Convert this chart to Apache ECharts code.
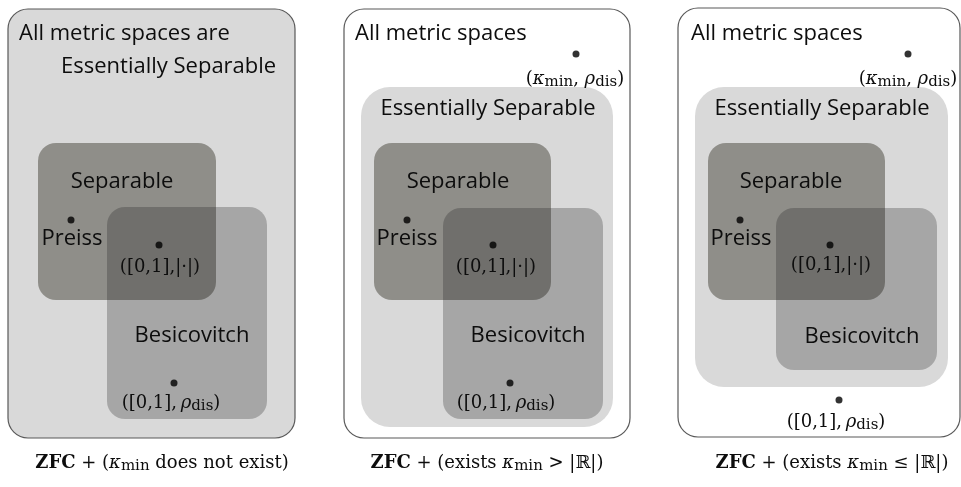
<!DOCTYPE html>
<html><head><meta charset="utf-8">
<script src="https://cdn.jsdelivr.net/npm/echarts@6/dist/echarts.min.js"></script>
<style>html,body{margin:0;padding:0;background:#fff}#c{width:961px;height:487px}</style>
</head><body><div id="c"></div>
<script>
// ---- data (diagram coordinates in a 961 x 487 value space) ----
const outerBoxes = [[8, 9, 295, 438], [344, 9, 630, 438], [678, 8, 960, 437]];
const essentialBoxes = [[361, 87, 613, 427], [695, 87, 948, 387]];
const separableBoxes = [[38, 143, 216, 300], [374, 143, 551, 300], [708, 143, 885, 300]];
const besicovitchBoxes = [[107, 207, 267, 419], [443, 208, 603, 419], [776, 208, 937, 370]];
const points = [[71, 220], [159, 245], [174, 383], [407, 220], [493, 245], [510, 383], [576, 54],
                [740, 220], [830, 245], [839, 400], [908, 54]];
const leftLabels = [[19, 32, 'All metric spaces are'], [61, 65, 'Essentially Separable'],
                    [355, 32, 'All metric spaces'], [691, 32, 'All metric spaces']];
const centerLabels = [[122, 180, 'Separable'], [72, 237, 'Preiss'], [192, 334, 'Besicovitch'],
                      [488, 107, 'Essentially Separable'], [458, 180, 'Separable'], [407, 237, 'Preiss'], [528, 334, 'Besicovitch'],
                      [822, 107, 'Essentially Separable'], [791, 180, 'Separable'], [741, 237, 'Preiss'], [862, 335, 'Besicovitch']];
const mathLabels = [[160, 267, '([0,1],|·|)'], [171, 403, '([0,1],\u2009{i|ρ}{s|dis})'],
                    [575, 79, '({i|κ}{s|min}, {i|ρ}{s|dis})'], [496, 267, '([0,1],|·|)'], [506, 403, '([0,1],\u2009{i|ρ}{s|dis})'],
                    [908, 79, '({i|κ}{s|min}, {i|ρ}{s|dis})'], [831, 265, '([0,1],|·|)'], [836, 422, '([0,1],\u2009{i|ρ}{s|dis})']];
const captions = [[162, 463, '{b|ZFC} + ({i|κ}{s|min} does not exist)'],
                  [487, 463, '{b|ZFC} + (exists {i|κ}{s|min} > |ℝ|)'],
                  [832, 463, '{b|ZFC} + (exists {i|κ}{s|min} ≤ |ℝ|)']];
const outerFills = ['#d9d9d9', '#ffffff', '#ffffff'];

// ---- rendering ----
const SERIF = 'DejaVu Serif, Liberation Serif, serif';
const SANS = 'Open Sans, Lato, sans-serif';
const INK = '#0d0d0d';
const mathRich = {
  i: { fontFamily: SERIF, fontSize: 18, fontStyle: 'italic', fill: INK, color: INK, lineHeight: 22 },
  s: { fontFamily: SERIF, fontSize: 15, fill: INK, color: INK, lineHeight: 11, verticalAlign: 'bottom' },
  b: { fontFamily: SERIF, fontSize: 18, fontWeight: 'bold', fill: INK, color: INK, lineHeight: 22 }
};

function boxSeries(list, r, styleFn, z) {
  return {
    type: 'custom', coordinateSystem: 'cartesian2d', silent: true, z: z,
    data: list, encode: { x: [0, 2], y: [1, 3] },
    renderItem(params, api) {
      const a = api.coord([api.value(0), api.value(1)]);
      const b = api.coord([api.value(2), api.value(3)]);
      return { type: 'rect', shape: { x: a[0], y: a[1], width: b[0] - a[0], height: b[1] - a[1], r: r },
               style: styleFn(params.dataIndex) };
    }
  };
}
function textSeries(list, align, base, dy, z) {
  return {
    type: 'custom', coordinateSystem: 'cartesian2d', silent: true, z: z,
    data: list.map(d => [d[0], d[1]]), encode: { x: 0, y: 1 },
    renderItem(params, api) {
      const p = api.coord([api.value(0), api.value(1)]);
      return { type: 'text', x: p[0], y: p[1] + dy,
               style: Object.assign({ text: list[params.dataIndex][2], align: align, verticalAlign: 'middle', rich: mathRich, fill: INK }, base) };
    }
  };
}

const chart = echarts.init(document.getElementById('c'), null, { renderer: 'canvas' });
chart.setOption({
  animation: false,
  backgroundColor: '#ffffff',
  grid: { left: 0, right: 0, top: 0, bottom: 0 },
  xAxis: { type: 'value', min: 0, max: 961, show: false },
  yAxis: { type: 'value', min: 0, max: 487, inverse: true, show: false },
  series: [
    boxSeries(outerBoxes, 20, i => ({ fill: outerFills[i], stroke: '#595959', lineWidth: 1.2 }), 1),
    boxSeries(essentialBoxes, 29, () => ({ fill: '#d9d9d9' }), 2),
    boxSeries(separableBoxes, 18, () => ({ fill: '#8f8e89' }), 3),
    boxSeries(besicovitchBoxes, 18, () => ({ fill: 'rgba(30,30,30,0.27)' }), 4),
    { type: 'scatter', data: points, symbol: 'circle', symbolSize: 7, itemStyle: { color: '#000' }, silent: true, z: 5 },
    textSeries(leftLabels, 'left', { fontFamily: SANS, fontSize: 22 }, 2, 6),
    textSeries(centerLabels, 'center', { fontFamily: SANS, fontSize: 22 }, 2, 6),
    textSeries(mathLabels, 'center', { fontFamily: SERIF, fontSize: 18 }, 0, 6),
    textSeries(captions, 'center', { fontFamily: SERIF, fontSize: 18 }, 0, 6)
  ]
});
</script></body></html>
